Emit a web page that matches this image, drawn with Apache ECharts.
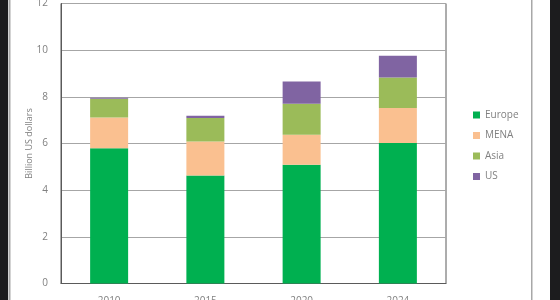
<!DOCTYPE html>
<html>
<head>
<meta charset="utf-8">
<script src="https://cdn.jsdelivr.net/npm/echarts@6/dist/echarts.min.js"></script>
<style>html,body{margin:0;padding:0;background:#1c1c1e;}#c{width:560px;height:300px;}</style>
</head>
<body>
<div id="c"></div>
<script>
const categories = ['2010', '2015', '2020', '2024'];
const europe = [5.8, 4.63, 5.09, 6.02];
const mena = [1.31, 1.46, 1.28, 1.5];
const asia = [0.81, 1.0, 1.33, 1.31];
const us = [0.04, 0.1, 0.96, 0.93];
const yTicks = [0, 2, 4, 6, 8, 10, 12];

const chart = echarts.init(document.getElementById('c'));
const labelColor = '#808080';
const mk = (name, data, color) => ({
  name, type: 'bar', stack: 'total', data, barWidth: 38,
  itemStyle: { color }
});
chart.setOption({
  backgroundColor: '#1c1c1e',
  animation: false,
  graphic: [
    { type: 'rect', z: -10, shape: { x: 8, y: 0, width: 542, height: 300 }, style: { fill: '#ffffff' } },
    { type: 'rect', z: -9, shape: { x: 8.5, y: 0, width: 2, height: 300 }, style: { fill: '#a8a8a8' } },
    { type: 'rect', z: -9, shape: { x: 531, y: 0, width: 1.5, height: 300 }, style: { fill: '#a8a8a8' } }
  ],
  grid: { left: 61, right: 114, top: 3.5, bottom: 16.5, show: true, borderColor: '#5a5a5a', borderWidth: 1,
    backgroundColor: 'transparent', containLabel: false, outerBoundsMode: 'none' },
  legend: {
    orient: 'vertical', left: 468, top: 105, itemWidth: 7, itemHeight: 7, itemGap: 10.5,
    icon: 'rect',
    textStyle: { color: '#808080', fontSize: 10, fontFamily: 'Open Sans' },
    data: ['Europe', 'MENA', 'Asia', 'US']
  },
  xAxis: {
    type: 'category', data: categories,
    axisLine: { lineStyle: { color: '#5a5a5a' } },
    axisTick: { show: false },
    axisLabel: { color: labelColor, fontSize: 10, margin: 13, fontFamily: 'Open Sans' }
  },
  yAxis: {
    type: 'value', min: 0, max: 12, interval: 2,
    name: 'Billion US dollars', nameLocation: 'middle', nameGap: 27, nameMoveOverlap: false,
    nameTextStyle: { color: labelColor, fontSize: 9, fontFamily: 'Open Sans' },
    axisLine: { show: true, lineStyle: { color: '#5a5a5a' } },
    axisTick: { show: false },
    splitLine: { lineStyle: { color: '#a6a6a6' } },
    axisLabel: { color: labelColor, fontSize: 10, margin: 13, fontFamily: 'Open Sans',
      formatter: v => yTicks.includes(v) ? String(v) : '' }
  },
  series: [
    mk('Europe', europe, '#00b050'),
    mk('MENA', mena, '#fac090'),
    mk('Asia', asia, '#9bbb59'),
    mk('US', us, '#8064a2')
  ]
});
</script>
</body>
</html>
